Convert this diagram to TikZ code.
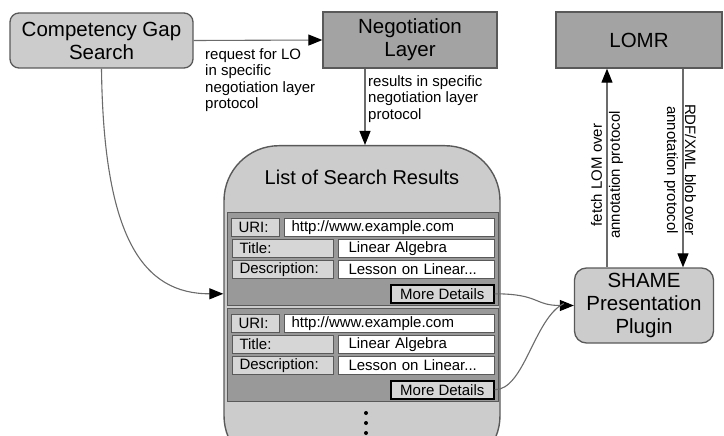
\documentclass[tikz,border=0pt]{standalone}
\usepackage{fontspec}
\setmainfont{Liberation Sans}
\usetikzlibrary{arrows.meta,calc}

\definecolor{lightfill}{gray}{0.80}
\definecolor{darkfill}{gray}{0.64}
\definecolor{panelfill}{gray}{0.60}
\definecolor{fieldfill}{gray}{0.84}
\definecolor{boxline}{gray}{0.35}
\definecolor{flowline}{gray}{0.42}

\newcommand\bigfont{\fontsize{20.5}{23}\selectfont}
\newcommand\smallfont{\fontsize{15}{16.5}\selectfont}

\tikzset{
  lightbox/.style={draw=boxline,fill=lightfill,line width=1.3pt,rounded corners=9pt,align=center,font=\bigfont},
  darkbox/.style={draw=boxline,fill=darkfill,line width=1.3pt,align=center,font=\bigfont},
  flow/.style={draw=flowline,line width=1.1pt,-{Triangle[length=14pt,width=11pt,color=black]}},
  lbl/.style={font=\smallfont,inner sep=0pt,align=left},
  panel/.style={draw=boxline,fill=panelfill,line width=1.2pt,anchor=north west,inner sep=0pt},
  field/.style={draw=boxline,line width=1pt,anchor=north west,inner xsep=7pt,inner ysep=0pt,
    minimum height=18pt,align=left,font=\smallfont},
  fieldname/.style={field,fill=fieldfill},
  fieldval/.style={field,fill=white},
  morebtn/.style={draw=black,fill=fieldfill,line width=1.6pt,anchor=north west,inner sep=0pt,
    minimum width=103pt,minimum height=18pt,font=\smallfont}
}

\begin{document}
\begin{tikzpicture}[x=1pt,y=-1pt]
\useasboundingbox (0,0) rectangle (724,436);
% Boxes
\node[lightbox,minimum width=183pt,minimum height=55pt] (gap) at (101.5,40.5) {Competency Gap\\Search};
\node[darkbox,minimum width=174pt,minimum height=56pt] (nego) at (410,40) {Negotiation\\Layer};
\node[darkbox,minimum width=166pt,minimum height=56pt] (lomr) at (639,40) {LOMR};
\node[lightbox,rounded corners=12pt,minimum width=139pt,minimum height=75pt] (shame) at (644,305.5) {SHAME\\Presentation\\Plugin};

% Result list
\node[draw=boxline,fill=lightfill,line width=1.4pt,rounded corners=55pt,anchor=north,
  minimum width=276pt,minimum height=325pt] (list) at (362,145) {};
\node[font=\fontsize{20}{22}\selectfont] (listtitle) at (362,177) {List of Search Results};
\foreach \i/\y in {1/212,2/308}{
  \node[panel,minimum width=271pt,minimum height=93pt] (p\i) at (227,\y) {};
  \node[fieldname,text width=34pt] (urik\i) at (231,\y+6) {URI:};
  \node[fieldval,text width=196pt] (uriv\i) at (284,\y+6) {http://www.example.com};
  \node[fieldname,text width=87pt] (titk\i) at (232,\y+27) {Title:};
  \node[fieldval,text width=142pt] (titv\i) at (338,\y+27) {\hspace{3pt}Linear Algebra};
  \node[fieldname,text width=87pt] (desk\i) at (232,\y+48) {Description:};
  \node[fieldval,text width=142pt] (desv\i) at (338,\y+48) {\hspace{3pt}Lesson on Linear...};
  \node[morebtn] (md\i) at (390,\y+72) {More Details};
}
\foreach \d in {413,423,433}
  \fill (366,\d) circle (2pt);

% Arrows
\draw[flow] (gap.east) -- (nego.west);
\node[lbl,anchor=north west] (reqlbl) at (205,48) {request for LO\\in specific\\negotiation layer\\protocol};
\draw[flow] ([xshift=-45pt]nego.south) -- ([xshift=-45pt]nego.south |- list.north);
\node[lbl,anchor=north west] (reslbl) at (368,75) {results in specific\\negotiation layer\\protocol};
\draw[flow] (gap.south) .. controls +(2,170) and +(-80,0) .. (list.west |- md1.center);
\draw[flow] (md1.east) .. controls +(45,0) and +(-40,0) .. (shame.west);
\draw[draw=flowline,line width=1.1pt] (md2.east) .. controls +(30,0) and +(-30,15) .. ([xshift=-10pt,yshift=2pt]shame.west);
\draw[flow] ([xshift=-37pt]shame.north) -- ([xshift=-37pt]shame.north |- lomr.south);
\draw[flow] ([xshift=39pt]shame.north |- lomr.south) -- ([xshift=39pt]shame.north);
\node[lbl,align=center,rotate=90,font=\fontsize{15}{18}\selectfont] (fetchlbl) at (607,175) {fetch LOM over\\annotation protocol};
\node[lbl,align=center,rotate=-90,font=\fontsize{15}{18}\selectfont] (rdflbl) at (680,170) {RDF/XML blob over\\annotation protocol};
\end{tikzpicture}
\end{document}
